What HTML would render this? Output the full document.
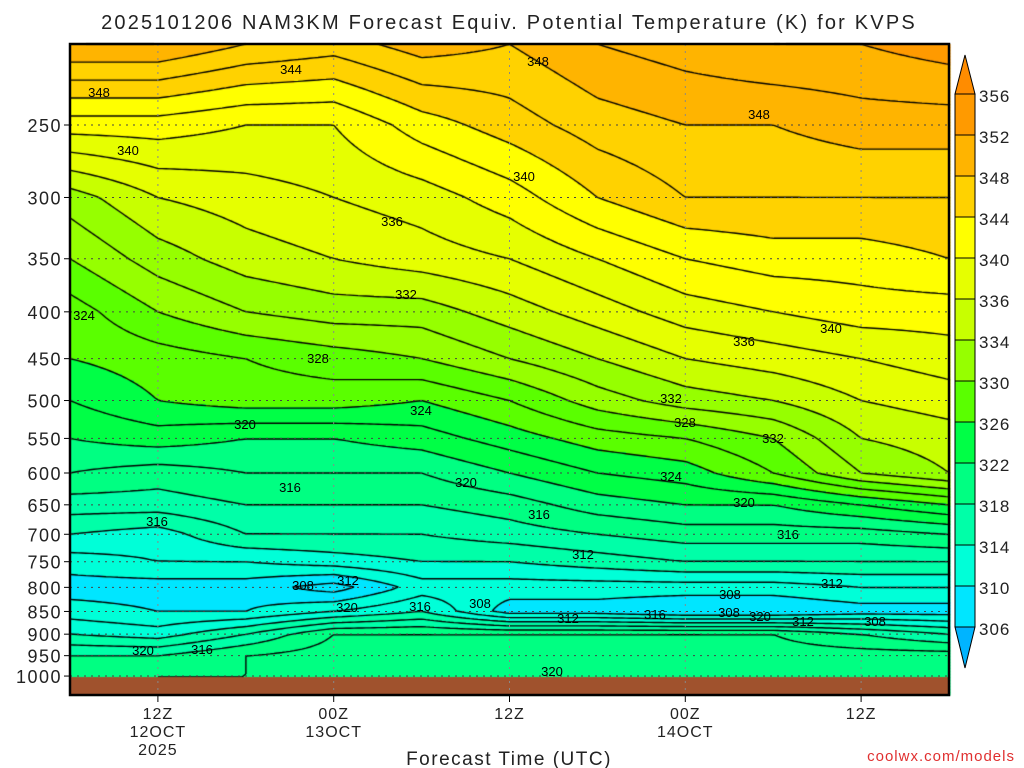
<!DOCTYPE html>
<html><head><meta charset="utf-8">
<style>
html,body{margin:0;padding:0;background:#fff;}
#wrap{position:relative;width:1024px;height:768px;overflow:hidden;font-family:"Liberation Sans","DejaVu Sans",sans-serif;}
canvas,svg{position:absolute;left:0;top:0;}
</style></head>
<body>
<div id="wrap">
<canvas id="cv" width="1024" height="768"></canvas>
<svg id="sv" width="1024" height="768"></svg>
</div>
<script>
// Forecast hours of data columns
const hours = [0,6,12,18,24,30,36,42,48,54,60];
// Pressure levels (hPa)
const pressures = [204,250,300,350,400,450,500,550,600,650,700,750,800,850,900,950,1000];
// Equivalent potential temperature (K), one row per pressure level
const row204 = [350,350,348,347,349,348,350,351,352,352,353];
const row250 = [341,341,340,340,343,345,347,348,348,349,349];
const row300 = [333,336,337,338,339,341,344,346,346,346,346];
const row350 = [330,333,335,336,337,338,340,342,343,343,344];
const row400 = [327,330,332,333,333,335,337,339,340,341,341];
const row450 = [326,327,328,329,330,332,334,336,337,338,339];
const row500 = [324,326,327,327,326,328,331,333,334,336,337];
const row550 = [322,323,322,322,323,325,327,328,330,334,335];
const row600 = [320,319,320,320,320,322,324,325,328,332,334];
const row650 = [317,317,318,318,318,319,321,322,322,324,326];
const row700 = [314,313,316,316,316,317,318,319,319,319,320];
const row750 = [311,312,312,313,314,314,315,316,316,316,316];
const row800 = [309,309,309,307,311,311,311,311,311,312,312];
const row850 = [311,310,310,312,314,309,309,308,308,309,309];
const row900 = [314,313,316,320,320,320,320,320,320,318,316];
const row950 = [318,318,320,321,321,321,321,322,321,321,321];
const row1000 = [319,320,320,320,320,321,321,321,321,321,321];
const grid = [row204,row250,row300,row350,row400,row450,row500,row550,row600,row650,row700,row750,row800,row850,row900,row950,row1000];
// Colour scale
const levels = [306,310,314,318,322,326,330,334,336,340,344,348,352,356];
const colors = ['#00b4ff','#00e6ff','#00ffd8','#00ffa8','#00ff82','#00ff46','#5aff00','#96ff00','#c8ff00','#e6ff00','#ffff00','#ffd200','#ffb400','#ff9a00','#ff8c00'];
const yTicks = [250,300,350,400,450,500,550,600,650,700,750,800,850,900,950,1000];
const xTickHours = [6,18,30,42,54];
const xTickLabels = [['12Z','12OCT','2025'],['00Z','13OCT'],['12Z'],['00Z','14OCT'],['12Z']];
const contourLabels = [[344,291,69],[348,538,61],[348,99,92],[348,759,114],[340,128,150],[340,524,176],[336,392,221],[332,406,294],[324,84,315],[340,831,328],[336,744,341],[328,318,358],[332,671,398],[324,421,410],[328,685,422],[320,245,424],[332,773,438],[320,466,482],[324,671,476],[316,290,487],[320,744,502],[316,539,514],[316,157,521],[316,788,534],[312,583,554],[312,832,583],[308,303,585],[312,348,580],[308,730,594],[320,347,607],[316,420,606],[308,480,603],[312,568,618],[316,655,614],[308,729,612],[320,760,616],[312,803,621],[308,875,621],[320,143,650],[316,202,649],[320,552,671]];

// axes
const X0=70,X1=949,Y0=44,Y1=695;
const xOf = h => X0 + (h/60)*(X1-X0);
const yOf = p => 125 + (Math.log(p)-Math.log(250))*397.5;
const hOf = x => (x-X0)/(X1-X0)*60;
function valAt(x,y){
  let h=Math.max(0,Math.min(60,hOf(x)));
  let i=0; while(i<hours.length-2 && hours[i+1]<h) i++;
  const fx=(h-hours[i])/(hours[i+1]-hours[i]);
  let j=0; while(j<pressures.length-2 && yOf(pressures[j+1])<y) j++;
  const ya=yOf(pressures[j]), yb=yOf(pressures[j+1]);
  let fy=(y-ya)/(yb-ya); fy=Math.max(0,Math.min(1,fy));
  const a=grid[j][i]*(1-fx)+grid[j][i+1]*fx;
  const b=grid[j+1][i]*(1-fx)+grid[j+1][i+1]*fx;
  return a*(1-fy)+b*fy;
}
function colorOf(v){let k=0;while(k<levels.length&&v>=levels[k])k++;return colors[k];}

const cv=document.getElementById('cv'), ctx=cv.getContext('2d');
const DX=4, DY=3;
const nx=Math.ceil((X1-X0)/DX), ny=Math.ceil((Y1-Y0)/DY);
const F=[];
for(let r=0;r<=ny;r++){F.push([]);for(let c=0;c<=nx;c++)F[r].push(valAt(X0+c*DX,Y0+r*DY));}
for(let r=0;r<ny;r++)for(let c=0;c<nx;c++){
  const v=(F[r][c]+F[r][c+1]+F[r+1][c]+F[r+1][c+1])/4;
  ctx.fillStyle=colorOf(v);
  ctx.fillRect(X0+c*DX,Y0+r*DY,DX+0.5,DY+0.5);
}
// contours every 2 K (marching squares)
ctx.strokeStyle='#000';ctx.lineWidth=1.4;ctx.beginPath();
for(let L=300;L<=360;L+=2){
  for(let r=0;r<ny;r++)for(let c=0;c<nx;c++){
    const x=X0+c*DX,y=Y0+r*DY;
    const v=[F[r][c],F[r][c+1],F[r+1][c+1],F[r+1][c]];
    const P=[[x,y],[x+DX,y],[x+DX,y+DY],[x,y+DY]];
    const pts=[];
    for(let e=0;e<4;e++){const a=v[e],b=v[(e+1)%4];
      if((a<L)!==(b<L)){const t=(L-a)/(b-a);const A=P[e],B=P[(e+1)%4];pts.push([A[0]+(B[0]-A[0])*t,A[1]+(B[1]-A[1])*t]);}}
    for(let k=0;k+1<pts.length;k+=2){ctx.moveTo(pts[k][0],pts[k][1]);ctx.lineTo(pts[k+1][0],pts[k+1][1]);}
  }
}
ctx.stroke();
// ground
ctx.fillStyle='#a0522d';ctx.fillRect(X0,yOf(1000)+1,X1-X0,Y1-yOf(1000)-1);

const NS='http://www.w3.org/2000/svg', sv=document.getElementById('sv');
function el(tag,attrs,text){const e=document.createElementNS(NS,tag);for(const k in attrs)e.setAttribute(k,attrs[k]);if(text!==undefined)e.textContent=text;sv.appendChild(e);return e;}
// gridlines & ticks
yTicks.forEach(p=>{
  const y=yOf(p);
  const g=el('line',{x1:X0,x2:X1,y1:y,y2:y,stroke:'#444','stroke-width':1,'stroke-dasharray':'2,5'});
  
  
  const tk=el('line',{x1:X0-6,x2:X0,y1:y,y2:y,stroke:'#000','stroke-width':1});
  
  
  const t=el('text',{x:X0-8,y:y+7,'text-anchor':'end','font-size':18,'letter-spacing':'1.5',fill:'#222'},String(p));
  
  
});
xTickHours.forEach((h,i)=>{
  const x=xOf(h);
  const g=el('line',{x1:x,x2:x,y1:Y0,y2:Y1,stroke:'#888','stroke-width':1,'stroke-dasharray':'2,5'});
  
  
  const tk=el('line',{x1:x,x2:x,y1:Y1,y2:Y1+7,stroke:'#000','stroke-width':1});
  
  
  xTickLabels[i].forEach((s,k)=>{
    const t=el('text',{x:x,y:719+k*18,'text-anchor':'middle','font-size':16,'letter-spacing':'1',fill:'#222'},s);
    
    
  });
});
contourLabels.forEach(d=>{
  const t=el('text',{x:d[1],y:d[2]+5,'text-anchor':'middle','font-size':13,fill:'#000'},String(d[0]));
  
  
});
const fr=el('rect',{x:X0,y:Y0,width:X1-X0,height:Y1-Y0,fill:'none',stroke:'#000','stroke-width':2.5});


// colorbar
const CB0=955,CB1=975,cbTop=94,cbStep=41;
for(let k=0;k<levels.length-1;k++){
  const y=cbTop+(levels.length-2-k)*cbStep;
  const r=el('rect',{x:CB0,y:y,width:CB1-CB0,height:cbStep,fill:colors[k+1],stroke:'#000','stroke-width':1});
  
  
}
const cbBot=cbTop+(levels.length-1)*cbStep;
const ta=el('polygon',{points:`${CB0},${cbTop} ${CB1},${cbTop} ${(CB0+CB1)/2},55`,fill:colors[colors.length-1],stroke:'#000'});


const ba=el('polygon',{points:`${CB0},${cbBot} ${CB1},${cbBot} ${(CB0+CB1)/2},668`,fill:colors[0],stroke:'#000'});


levels.forEach((L,k)=>{
  const y=cbTop+(levels.length-1-k)*cbStep;
  const t=el('text',{x:979,y:y+8,'font-size':17,'letter-spacing':'1',fill:'#222'},String(L));
  
  
});
const title=el('text',{x:509,y:29,'text-anchor':'middle','font-size':20,'letter-spacing':'2.2',fill:'#222'},'2025101206 NAM3KM Forecast Equiv. Potential Temperature (K) for KVPS');


const xt=el('text',{x:509,y:765,'text-anchor':'middle','font-size':19,'letter-spacing':'1.5',fill:'#222'},'Forecast Time (UTC)');


const cr=el('text',{x:1015,y:761,'text-anchor':'end','font-size':15,'letter-spacing':'1',fill:'#e03030'},'coolwx.com/models');


</script>
</body></html>
